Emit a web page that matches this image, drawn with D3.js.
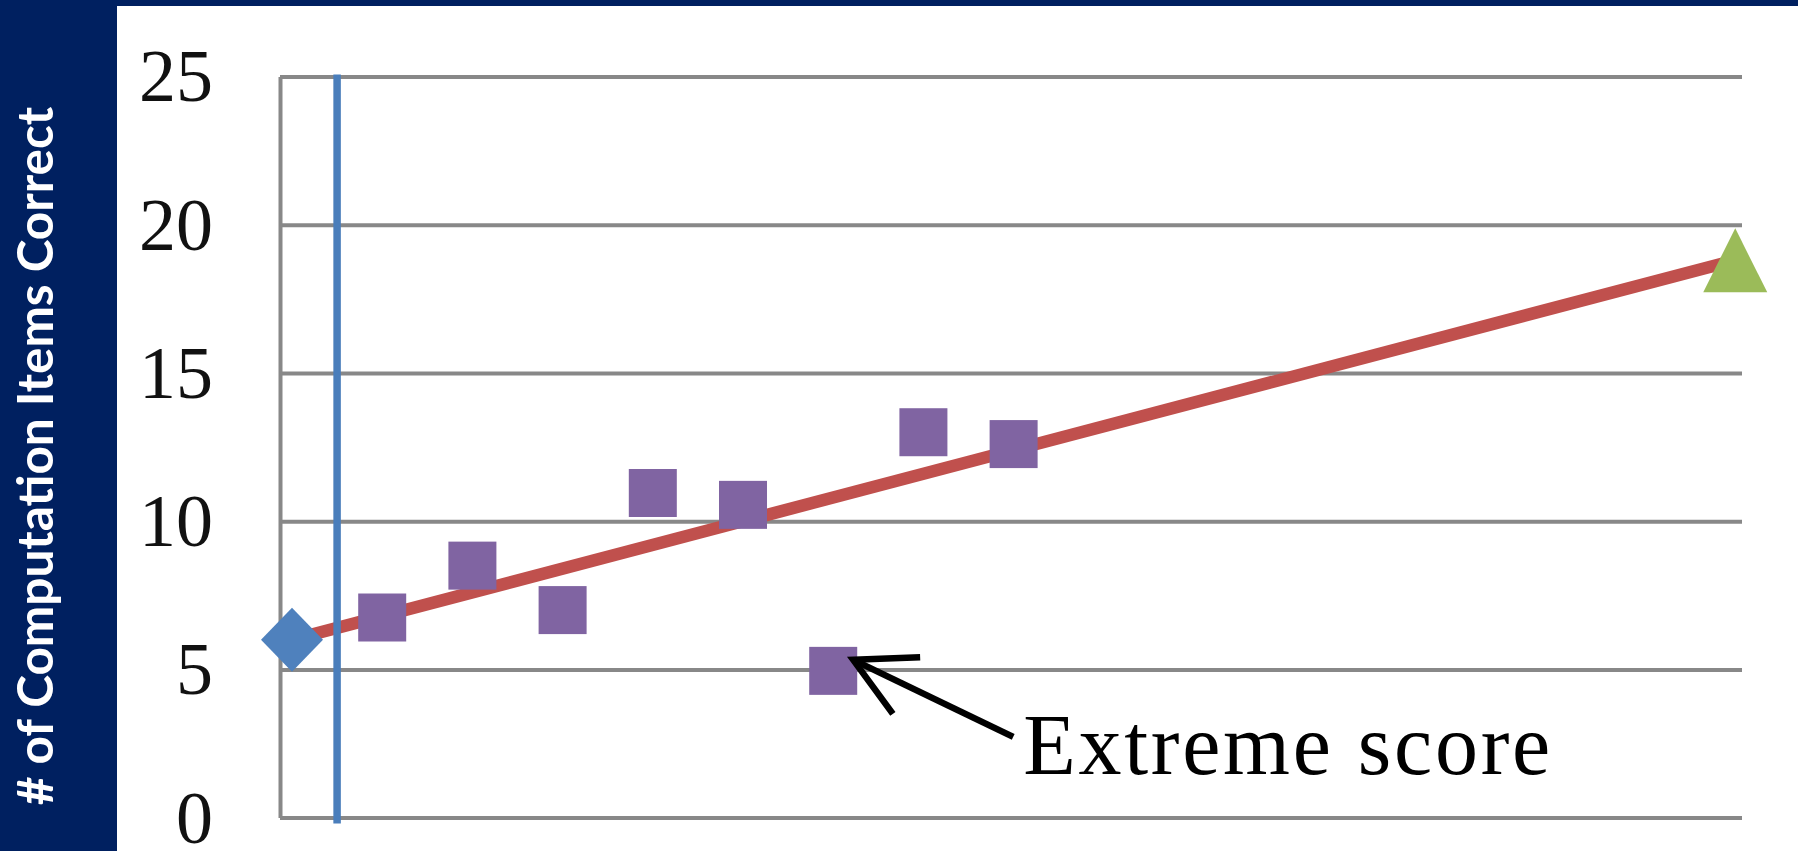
<!DOCTYPE html>
<html>
<head>
<meta charset="utf-8">
<script src="https://cdn.jsdelivr.net/npm/d3@7"></script>
<style>
  html, body { margin: 0; padding: 0; background: #ffffff; overflow: hidden; }
  svg { display: block; }
</style>
</head>
<body>
<svg id="chart" width="1798" height="851"></svg>
<script>
// ---- Progress-monitoring data ----
const baselineWeek  = [0];
const baselineScore = [6];
const weeks  = [1, 2, 3, 4, 5, 6, 7, 8];
const scores = [6.75, 8.5, 7, 10.95, 10.55, 4.95, 13, 12.6];
const goalWeek  = [16];
const goalScore = [18.8];
const phaseChangeWeek = 0.5;      // baseline -> intervention
const yTicks = [0, 5, 10, 15, 20, 25];
const yAxisTitle = "# of Computation Items Correct";
const noteText = "Extreme score";
const noteIndex = 5;              // the score the note points at

// ---- Layout ----
const W = 1798, H = 851;
const NAVY = "#002060";
const plot = { left: 280, right: 1742, top: 76.5, bottom: 817.6 };

const svg = d3.select("#chart");

// slide frame: thin band on top, panel on the left
svg.append("rect").attr("x", 0).attr("y", 0).attr("width", W).attr("height", 6).attr("fill", NAVY);
svg.append("rect").attr("x", 0).attr("y", 0).attr("width", 117).attr("height", H).attr("fill", NAVY);

// vertical axis title inside the left panel
svg.append("text")
  .attr("transform", `translate(53, ${(109 + 803) / 2}) rotate(-90)`)
  .attr("text-anchor", "middle")
  .attr("font-family", "Lato, 'Open Sans', sans-serif")
  .attr("font-weight", 700)
  .attr("font-size", 49.5)
  .attr("fill", "#ffffff")
  .text(yAxisTitle);

// ---- Scales ----
const x = d3.scaleLinear().domain([-0.133, 16.075]).range([plot.left, plot.right]);
const y = d3.scaleLinear().domain([0, 25]).range([plot.bottom, plot.top]);

// ---- Gridlines + value axis ----
const yAxis = d3.axisLeft(y)
  .tickValues(yTicks)
  .tickSize(-(plot.right - plot.left))
  .tickSizeOuter(0)
  .tickPadding(67)
  .tickFormat(d3.format("d"));

const gAxis = svg.append("g")
  .attr("transform", `translate(${plot.left},0)`)
  .call(yAxis);

gAxis.select(".domain")
  .attr("stroke", "#888888")
  .attr("stroke-width", 4);
gAxis.selectAll(".tick line")
  .attr("stroke", "#888888")
  .attr("stroke-width", 4);
gAxis.selectAll(".tick text")
  .attr("fill", "#111111")
  .attr("font-family", "'Liberation Serif', 'DejaVu Serif', serif")
  .attr("font-size", 74)
  .attr("dy", "0.33em");

// ---- Aim line from baseline to goal ----
const aim = [
  { w: baselineWeek[0], s: baselineScore[0] },
  { w: goalWeek[0],     s: goalScore[0] }
];
svg.append("path")
  .datum(aim)
  .attr("d", d3.line().x(d => x(d.w)).y(d => y(d.s)))
  .attr("fill", "none")
  .attr("stroke", "#C0504D")
  .attr("stroke-width", 12.5);

// ---- Phase-change line ----
svg.append("line")
  .attr("x1", x(phaseChangeWeek)).attr("x2", x(phaseChangeWeek))
  .attr("y1", y(25) - 2).attr("y2", y(0) + 6)
  .attr("stroke", "#4A7EBB")
  .attr("stroke-width", 7.5);

// ---- Baseline marker (diamond) ----
const dHalfW = 31, dHalfH = 32;
svg.selectAll("path.baseline")
  .data(baselineWeek.map((w, i) => ({ w, s: baselineScore[i] })))
  .join("path")
  .attr("class", "baseline")
  .attr("d", d => {
    const cx = x(d.w), cy = y(d.s);
    return `M${cx},${cy - dHalfH}L${cx + dHalfW},${cy}L${cx},${cy + dHalfH}L${cx - dHalfW},${cy}Z`;
  })
  .attr("fill", "#4F81BD");

// ---- Weekly scores (squares) ----
const sq = 48;
const pts = weeks.map((w, i) => ({ w, s: scores[i] }));
svg.selectAll("rect.score")
  .data(pts)
  .join("rect")
  .attr("class", "score")
  .attr("x", d => x(d.w) - sq / 2)
  .attr("y", d => y(d.s) - sq / 2)
  .attr("width", sq)
  .attr("height", sq)
  .attr("fill", "#8064A2");

// ---- Goal marker (triangle) ----
const tHalfW = 32, tHalfH = 32;
svg.selectAll("path.goal")
  .data(goalWeek.map((w, i) => ({ w, s: goalScore[i] })))
  .join("path")
  .attr("class", "goal")
  .attr("d", d => {
    const cx = x(d.w), cy = y(d.s);
    return `M${cx},${cy - tHalfH}L${cx + tHalfW},${cy + tHalfH}L${cx - tHalfW},${cy + tHalfH}Z`;
  })
  .attr("fill", "#9BBB59");

// ---- Annotation: arrow to the extreme score ----
const target = pts[noteIndex];
const tip  = [x(target.w) + 20, y(target.s) - 11];
const tail = [tip[0] + 160, tip[1] + 77];
const ang = Math.atan2(tail[1] - tip[1], tail[0] - tip[0]);
const armLen = 67, spread = 28 * Math.PI / 180;
const arm1 = [tip[0] + armLen * Math.cos(ang - spread), tip[1] + armLen * Math.sin(ang - spread)];
const arm2 = [tip[0] + armLen * Math.cos(ang + spread), tip[1] + armLen * Math.sin(ang + spread)];

const gNote = svg.append("g")
  .attr("stroke", "#000000")
  .attr("stroke-width", 6.5)
  .attr("fill", "none");
gNote.append("line").attr("x1", tip[0]).attr("y1", tip[1]).attr("x2", tail[0]).attr("y2", tail[1]);
gNote.append("path")
  .attr("d", `M${arm1[0]},${arm1[1]}L${tip[0]},${tip[1]}L${arm2[0]},${arm2[1]}`)
  .attr("stroke-linejoin", "miter");

svg.append("text")
  .attr("x", tail[0] + 10)
  .attr("y", tail[1] + 37)
  .attr("font-family", "'Liberation Serif', 'DejaVu Serif', serif")
  .attr("font-size", 86)
  .attr("fill", "#000000")
  .attr("textLength", 527)
  .attr("lengthAdjust", "spacing")
  .text(noteText);
</script>
</body>
</html>
